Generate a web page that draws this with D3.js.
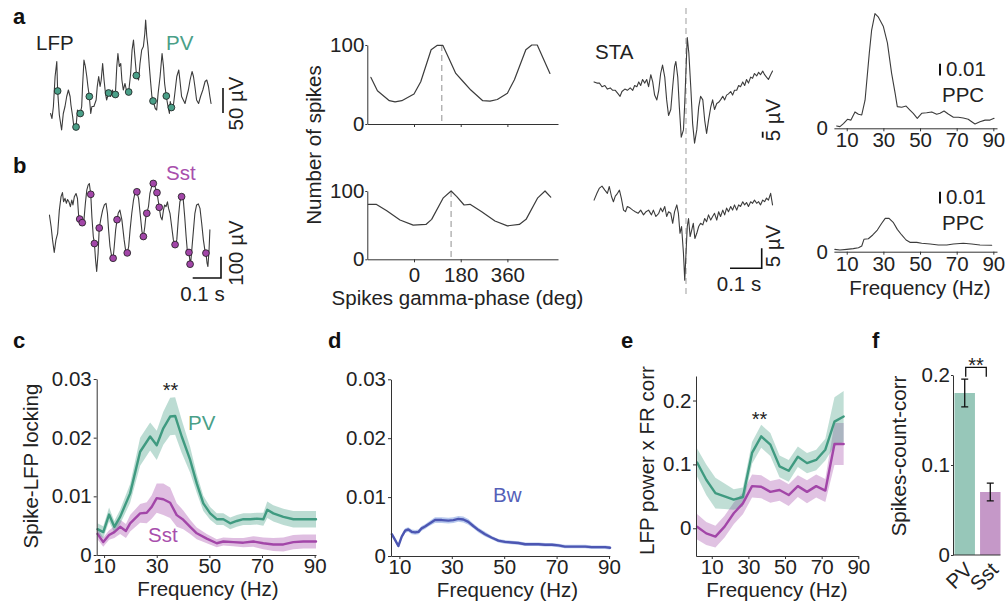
<!DOCTYPE html>
<html>
<head>
<meta charset="utf-8">
<script src="https://cdn.jsdelivr.net/npm/d3@7"></script>
<style>
html,body{margin:0;padding:0;background:#fff;}
svg{display:block;}
</style>
</head>
<body>
<svg id="fig" width="1008" height="606" xmlns="http://www.w3.org/2000/svg"></svg>
<script>
// ================= DATA =================
// a: LFP trace with PV spikes  [time ms, µV]
const lfpPV = [[2,-57],[7,-67],[12,-43],[18,17],[24,47],[27,-12],[33,-60],[41,-90],[47,-57],[53,-43],[59,-23],[65,-10],[71,-23],[74,-40],[80,-63],[85,-87],[92,-84],[97,-50],[102,-60],[107,-57],[112,-43],[115,-3],[120,50],[125,37],[130,17],[134,-3],[139,-23],[144,-57],[148,-43],[155,-43],[163,-30],[167,-3],[172,17],[177,-3],[181,10],[186,43],[191,10],[196,-17],[200,-30],[207,-16],[214,-23],[221,-10],[226,-23],[231,-19],[236,37],[240,63],[245,37],[250,43],[254,10],[259,-10],[265,3],[271,-13],[278,-14],[285,23],[290,70],[295,90],[299,63],[306,17],[313,10],[318,43],[324,70],[330,77],[335,103],[338,130],[342,97],[346,77],[351,37],[356,3],[360,-23],[365,-33],[372,-47],[377,-50],[382,-17],[389,17],[396,63],[401,37],[405,3],[411,-23],[417,-43],[422,-57],[425,-33],[429,-45],[434,-50],[441,-17],[448,17],[455,30],[459,10],[465,-23],[471,-30],[477,-37],[483,-23],[489,-10],[495,10],[502,27],[507,17],[512,-3],[518,-30],[525,-37],[532,-23],[540,-10],[548,7],[554,10],[560,-3],[565,-23],[569,-37]];
const pvSpikes = [[27,-12],[92,-84],[107,-57],[139,-23],[207,-16],[231,-19],[278,-14],[305,19],[364,-32],[411,-22],[429,-45]];
// b: LFP trace with Sst spikes
const lfpSst = [[-2,39],[4,-16],[9,-78],[15,-137],[21,-78],[27,-47],[33,62],[39,125],[44,144],[48,101],[53,117],[58,94],[62,112],[67,101],[72,78],[77,109],[81,86],[86,125],[92,140],[97,117],[101,39],[105,20],[110,8],[114,3],[120,16],[125,94],[130,156],[135,180],[139,187],[144,136],[148,31],[153,-62],[157,-95],[161,-172],[165,-226],[170,-140],[174,-22],[180,23],[186,62],[192,86],[198,94],[203,47],[207,-31],[212,-109],[218,-156],[223,-164],[227,-109],[232,-31],[237,17],[241,47],[247,62],[254,16],[262,-78],[267,-125],[273,-139],[278,-109],[283,-31],[289,47],[295,109],[300,140],[307,148],[313,117],[319,39],[325,-39],[330,-62],[335,-16],[338,23],[342,47],[348,78],[353,140],[359,172],[365,187],[371,172],[378,144],[383,101],[386,75],[391,31],[396,16],[401,62],[405,86],[410,78],[415,101],[419,70],[424,47],[430,-16],[436,-78],[442,-100],[448,-78],[454,31],[459,101],[465,125],[471,109],[476,31],[481,-62],[485,-125],[489,-140],[491,-137],[494,-172],[495,-192],[498,-172],[502,-109],[507,-31],[512,47],[518,86],[524,91],[530,70],[536,0],[542,-78],[548,-133],[551,-140],[555,-187],[558,-203],[562,-125],[565,-31]];
const sstSpikes = [[105,20],[114,3],[144,136],[157,-95],[174,-22],[223,-164],[237,17],[273,-139],[307,148],[330,-62],[342,47],[365,187],[378,144],[386,75],[442,-100],[465,125],[491,-137],[495,-192],[551,-140]];
// a/b middle: spike gamma-phase histograms
const phasePV  = [-166,-141,-95,-73,-47,0,26,66,90,111,136,161,190,219,265,293,321,360,387,431,454,475,524];
const countPV  = [59,42,29.5,28,29.5,38,53.5,94,99.6,99.6,82,64,53.5,43,29.5,29,31,39,56,94,100,100,64];
const phaseSst = [-176,-146,-105,-54,-3,46,68,113,143,165,193,216,261,312,360,406,432,477,505,527];
const countSst = [80.5,80.5,71,57.5,50,51,58.5,90,100,91.7,79.5,80.5,69.7,56,49,51,58.5,90,100,91];
const preferredPhase = [107, 143];
const phaseTicks = [0, 180, 360];
const countTicks = [0, 100];
// STA traces [time ms, µV]
const staPV = [[-290,4],[-281,3],[-273,3],[-265,0],[-256,1],[-248,-2],[-239,-1],[-231,-3],[-223,-3],[-214,-6],[-208,-8],[-202,-4],[-193,-2],[-185,-3],[-176,-1],[-168,-3],[-162,1],[-155,0],[-149,4],[-143,1],[-137,6],[-130,3],[-124,6],[-118,0],[-111,10],[-105,4],[-99,-7],[-92,-11],[-86,-3],[-80,11],[-74,18],[-67,8],[-61,-11],[-55,-24],[-48,-19],[-42,0],[-36,17],[-32,21],[-26,8],[-21,-17],[-15,-42],[-8,-36],[-4,-14],[0,14],[4,41],[9,28],[15,0],[21,-31],[27,-47],[34,-36],[40,-17],[46,-8],[53,-11],[59,-28],[65,-39],[71,-28],[78,-17],[84,-11],[90,-19],[97,-14],[103,-13],[109,-11],[116,-8],[122,-11],[128,-7],[134,-6],[141,-4],[147,-7],[153,-3],[160,-3],[166,1],[172,0],[179,4],[185,1],[191,6],[197,3],[204,8],[210,7],[216,11],[223,9],[229,12],[235,10],[242,13],[248,10],[254,8],[260,6],[267,10],[273,13]];
const staSst = [[-290,3.3],[-281,5],[-273,6.3],[-265,6.8],[-256,5.8],[-248,5],[-242,6.7],[-235,4.2],[-229,2.9],[-223,4.3],[-216,5],[-210,5.8],[-204,3.8],[-197,0.8],[-191,0.4],[-185,1.7],[-176,1.3],[-168,0.8],[-160,0.4],[-151,0],[-143,0.8],[-134,-0.4],[-126,0.4],[-118,0.8],[-109,-0.4],[-103,0.8],[-95,-0.8],[-86,0],[-80,1.3],[-74,0.4],[-67,1.7],[-61,-0.8],[-55,0.4],[-48,0],[-42,-2.5],[-36,0.4],[-29,2.1],[-24,0],[-19,-5],[-14,-3.3],[-8,-10],[-4,-16.7],[0,-10],[4,-3.3],[8,-1.3],[13,-5.8],[18,-4.2],[23,-2.5],[28,-6.3],[34,-5],[40,-3.3],[46,-2.5],[53,-2.9],[59,-1.3],[65,-2.1],[71,-0.4],[78,-1.7],[84,-0.8],[90,0],[97,-1.7],[103,0.4],[109,-0.8],[116,0.8],[122,-0.4],[128,1.3],[134,0.4],[141,1.7],[147,0.8],[153,2.1],[160,0.8],[166,2.1],[172,1.7],[179,2.9],[185,2.1],[191,2.7],[197,1.7],[204,2.9],[210,2.5],[216,3.3],[223,2.5],[229,2.9],[235,2.1],[242,3.3],[248,2.9],[254,3.8],[260,3.3],[267,5],[273,2.1]];
// PPC spectra
const ppcFreqPV = [4.5,6.3,8.2,10.4,12.3,14.5,16.4,18.2,20,22.3,23.6,25.4,27.3,30,32.2,34.5,36.4,37.6,40,42.4,44.5,46.3,48.5,50.9,53.6,56.4,59.1,60.9,63.1,65.4,68.2,70.9,73.6,76.3,78.2,80,82.7,85.5,88.2,90.4];
const ppcPV = [0.002,0.0014,0.004,0.0077,0.007,0.014,0.012,0.0114,0.024,0.064,0.084,0.098,0.095,0.087,0.073,0.047,0.03,0.0185,0.018,0.019,0.0156,0.0128,0.0085,0.0128,0.0133,0.014,0.012,0.0128,0.0148,0.0122,0.0094,0.0094,0.0088,0.0077,0.0056,0.0037,0.0056,0.007,0.007,0.0085];
const ppcFreqSst = [3.5,6.3,10,13.6,16.4,18.2,19.4,21.8,24.2,26.7,29.1,31,33.1,35.5,37.6,40,42.4,44.5,48.2,50.9,55.5,60,64.6,68.2,73.6,78.2,82.7,89.1];
const ppcSst = [0.002,0.0015,0.002,0.0026,0.0034,0.0049,0.0106,0.0111,0.0143,0.0185,0.0243,0.0285,0.0285,0.0248,0.0191,0.0143,0.01,0.008,0.008,0.0072,0.0066,0.0057,0.0057,0.0066,0.0072,0.0066,0.0057,0.0055];
const freqTicks = [10, 30, 50, 70, 90];
// c: spike-LFP locking
const lockFreqPV = [7.5,9.7,11.9,13.9,16.1,19.9,23.7,27.5,30,32.5,35.1,37,39.5,42.7,45.2,47.7,50.3,52.8,55.3,57.9,60.4,62.9,65.5,68,70.5,72,74.3,78.1,81.9,85.7,88.2,90.5];
const lockPV = [0.0044,0.0039,0.0069,0.0048,0.0065,0.0105,0.0176,0.0202,0.0187,0.0216,0.0236,0.0237,0.0202,0.0162,0.0122,0.0088,0.0071,0.0061,0.0061,0.0054,0.0058,0.0061,0.0061,0.0062,0.0061,0.0077,0.0071,0.0065,0.0061,0.0061,0.0061,0.0061];
const lockPVsem = [0.001,0.001,0.0012,0.001,0.0012,0.0016,0.0024,0.0024,0.0025,0.0028,0.0032,0.0032,0.0028,0.0022,0.0016,0.0013,0.0011,0.001,0.001,0.001,0.001,0.001,0.001,0.001,0.0011,0.0014,0.0014,0.0014,0.0014,0.0014,0.0014,0.0014];
const lockFreqSst = [7.5,9.7,11.9,13.9,16.1,18.3,19.9,23.7,26.2,28.1,30,32.5,35.1,37.6,40.1,42.7,45.2,49,52.8,55.3,59.1,62.9,66.7,70.5,74.3,78.1,81.9,85.7,88.2,90.5];
const lockSst = [0.0036,0.0022,0.0034,0.0039,0.0048,0.0041,0.0054,0.0071,0.0072,0.0082,0.0097,0.0095,0.0089,0.0068,0.006,0.0048,0.0037,0.0028,0.002,0.0023,0.0022,0.0021,0.0023,0.002,0.0018,0.0018,0.0022,0.0023,0.0023,0.0023];
const lockSstSem = [0.0009,0.0008,0.0008,0.001,0.0012,0.0012,0.0014,0.0016,0.0018,0.002,0.0025,0.0027,0.0026,0.002,0.0016,0.0012,0.001,0.0008,0.0007,0.0007,0.0007,0.0008,0.0009,0.001,0.0011,0.0012,0.0012,0.0012,0.0012,0.0012];
const lockTicks = [0, 0.01, 0.02, 0.03];
// d: broad-waveform locking
const bwFreq = [7.1,8.4,9.6,10.9,12.2,13.4,14.7,16,17.3,18.5,19.8,21.1,23.6,26.2,28.7,30.6,32.5,34.4,36.3,38.2,40.2,42.7,45.3,47.8,50.3,52.9,55.4,58,60.5,63.1,65.6,68.2,70.7,73.2,75.8,78.3,80.9,83.4,86,88.5,90.4];
const bwLock = [0.0037,0.0027,0.0017,0.0033,0.0043,0.0045,0.0041,0.004,0.0041,0.0047,0.005,0.0054,0.0061,0.0061,0.006,0.0061,0.0063,0.0062,0.0058,0.0051,0.0044,0.0037,0.0031,0.0026,0.0024,0.0023,0.0022,0.002,0.002,0.002,0.0019,0.0019,0.0018,0.0016,0.0016,0.0016,0.0016,0.0015,0.0015,0.0015,0.0014];
const bwSem = [0.0003,0.0003,0.0003,0.0003,0.0004,0.0004,0.0004,0.0004,0.0004,0.0004,0.0004,0.0004,0.0005,0.0005,0.0005,0.0005,0.0005,0.0005,0.0005,0.0004,0.0004,0.0004,0.0003,0.0003,0.0003,0.0003,0.0003,0.0003,0.0003,0.0003,0.0003,0.0003,0.0003,0.0003,0.0003,0.0003,0.0003,0.0003,0.0003,0.0003,0.0003];
// e: LFP power x FR correlation
const corrFreq = [2,7,12,17,22,27,32,37,42,47,52,57,62,67,72,77,82];
const corrPV = [0.103,0.076,0.055,0.05,0.045,0.049,0.118,0.144,0.131,0.097,0.09,0.112,0.102,0.107,0.123,0.167,0.175];
const corrPVsem = [0.022,0.024,0.024,0.02,0.016,0.015,0.017,0.018,0.018,0.017,0.017,0.016,0.016,0.016,0.017,0.038,0.04];
const corrSst = [0.0025,-0.008,-0.013,0.0025,0.0235,0.039,0.066,0.065,0.057,0.06,0.052,0.066,0.057,0.066,0.059,0.132,0.132];
const corrSstSem = [0.02,0.018,0.017,0.017,0.017,0.017,0.018,0.018,0.017,0.017,0.017,0.017,0.018,0.018,0.018,0.033,0.033];
const corrTicks = [0, 0.1, 0.2];
// f: spike-count correlation
const groups = ['PV', 'Sst'];
const countCorrMean = [0.18, 0.07];
const countCorrSem = [0.0155, 0.0098];
const countCorrTicks = [0, 0.1, 0.2];

// ================= STYLE =================
const FONT = '"Liberation Sans", Arial, Helvetica, sans-serif';
const FS = 20.5;
const INK = '#222';
const AX = '#333';
const TRACE = '#3c3c3c';
const TEAL = '#3f9a80', TEAL_TXT = '#4a9f88', TEAL_BAR = '#97c7b9';
const PURP = '#a246a8', PURP_TXT = '#a84fad', PURP_BAR = '#c598c8';
const BLUE = '#4c56b2', BLUE_TXT = '#5560b8';

const svg = d3.select('#fig');
svg.append('rect').attr('width', 1008).attr('height', 606).attr('fill', '#fff');

function label(x, y, s, o = {}) {
  const t = svg.append('text').attr('x', x).attr('y', y).text(s)
    .attr('font-family', FONT).attr('font-size', o.size || FS).attr('fill', o.fill || INK);
  if (o.anchor) t.attr('text-anchor', o.anchor);
  if (o.weight) t.attr('font-weight', o.weight);
  if (o.rotate != null) t.attr('transform', `rotate(${o.rotate},${x},${y})`);
  return t;
}
function styleAxis(g) {
  g.attr('font-size', FS).attr('font-family', FONT);
  g.select('.domain').attr('stroke', AX).attr('stroke-width', 1);
  g.selectAll('.tick line').attr('stroke', AX);
  g.selectAll('.tick text').attr('fill', INK);
  return g;
}
function pathLine(data, x, y, stroke, w) {
  return svg.append('path').datum(data)
    .attr('d', d3.line().x(d => x(d[0])).y(d => y(d[1])))
    .attr('fill', 'none').attr('stroke', stroke).attr('stroke-width', w)
    .attr('stroke-linejoin', 'round').attr('stroke-linecap', 'round');
}
function band(fr, m, s, x, y, fill, op) {
  const data = d3.zip(fr, m, s);
  svg.append('path').datum(data)
    .attr('d', d3.area().x(d => x(d[0])).y0(d => y(d[1] - d[2])).y1(d => y(d[1] + d[2])))
    .attr('fill', fill).attr('fill-opacity', op).attr('stroke', 'none');
}
const fmt2 = d => d === 0 ? '0' : d3.format('.2f')(d);
const fmt1 = d => d === 0 ? '0' : d3.format('.1f')(d);

// ================= PANEL LETTERS =================
[['a', 13, 24], ['b', 13, 173], ['c', 13, 348], ['d', 328, 348], ['e', 621, 348], ['f', 872, 348]]
  .forEach(([s, x, y]) => label(x, y, s, { size: 22, weight: 'bold', fill: '#111' }));

// ================= a/b LFP traces =================
const xT = d3.scaleLinear().domain([0, 100]).range([50, 78.3]);       // ms
const yA = d3.scaleLinear().domain([0, 50]).range([85, 60]);          // µV
const yB = d3.scaleLinear().domain([0, 100]).range([223.3, 202]);     // µV

label(36, 50, 'LFP');
label(166, 50, 'PV', { fill: TEAL_TXT });
pathLine(lfpPV, xT, yA, TRACE, 1.1);
svg.selectAll('.dotPV').data(pvSpikes).enter().append('circle')
  .attr('cx', d => xT(d[0])).attr('cy', d => yA(d[1])).attr('r', 3.4)
  .attr('fill', TEAL_TXT).attr('stroke', '#1c1c1c').attr('stroke-width', 0.8);
{
  const yb = 113, len = yA(0) - yA(50);
  svg.append('line').attr('x1', 223).attr('x2', 223).attr('y1', yb).attr('y2', yb - len).attr('stroke', '#111').attr('stroke-width', 1.6);
  label(243, 103.5, '50 µV', { rotate: -90, anchor: 'middle' });
}

label(166, 180, 'Sst', { fill: PURP_TXT });
pathLine(lfpSst, xT, yB, TRACE, 1.1);
svg.selectAll('.dotSst').data(sstSpikes).enter().append('circle')
  .attr('cx', d => xT(d[0])).attr('cy', d => yB(d[1])).attr('r', 3.4)
  .attr('fill', PURP).attr('stroke', '#1c1c1c').attr('stroke-width', 0.8);
{
  const xb = 221, yb = 278, len = yB(0) - yB(100), tl = xT(100) - xT(0);
  svg.append('path').attr('d', `M${xb},${yb - len}V${yb}H${xb - tl}`).attr('fill', 'none').attr('stroke', '#111').attr('stroke-width', 1.6);
  label(243, 253, '100 µV', { rotate: -90, anchor: 'middle' });
  label(202.5, 301, '0.1 s', { anchor: 'middle' });
}

// ================= phase histograms =================
const xPh = d3.scaleLinear().domain([-180, 555]).range([367.3, 558]);
const yH1 = d3.scaleLinear().domain([0, 100]).range([124, 45]);
const yH2 = d3.scaleLinear().domain([0, 100]).range([259.3, 191]);

[[yH1, d3.zip(phasePV, countPV), false, preferredPhase[0]], [yH2, d3.zip(phaseSst, countSst), true, preferredPhase[1]]]
  .forEach(([yH, data, showLabels, pref]) => {
    svg.append('line').attr('x1', xPh(pref)).attr('x2', xPh(pref))
      .attr('y1', yH(100)).attr('y2', yH(0)).attr('stroke', '#aaa').attr('stroke-width', 1.3).attr('stroke-dasharray', '6,4');
    styleAxis(svg.append('g').attr('transform', `translate(${xPh.range()[0]},0)`)
      .call(d3.axisLeft(yH).tickValues(countTicks).tickSize(2).tickPadding(1).tickSizeOuter(0)));
    const ax = d3.axisBottom(xPh).tickValues(phaseTicks).tickSize(3).tickPadding(5).tickSizeOuter(0);
    if (!showLabels) ax.tickFormat(() => '');
    styleAxis(svg.append('g').attr('transform', `translate(0,${yH(0)})`).call(ax));
    pathLine(data, xPh, yH, TRACE, 1.2);
  });
label(321, 145, 'Number of spikes', { rotate: -90, anchor: 'middle' });
label(457.5, 305, 'Spikes gamma-phase (deg)', { anchor: 'middle' });

// ================= STA =================
const xS = d3.scaleLinear().domain([0, 100]).range([686, 717.7]);
const ySTA1 = d3.scaleLinear().domain([0, 5]).range([86.7, 80.7]);
const ySTA2 = d3.scaleLinear().domain([0, 5]).range([213.3, 193.3]);
svg.append('line').attr('x1', xS(0)).attr('x2', xS(0)).attr('y1', 8).attr('y2', 298)
  .attr('stroke', '#b5b5b5').attr('stroke-width', 1.3).attr('stroke-dasharray', '6,4');
label(595, 59, 'STA');
pathLine(staPV, xS, ySTA1, TRACE, 1.1);
pathLine(staSst, xS, ySTA2, TRACE, 1.1);
{
  const len1 = ySTA1(0) - ySTA1(5);
  svg.append('line').attr('x1', 762.7).attr('x2', 762.7).attr('y1', 137.7).attr('y2', 137.7 - len1).attr('stroke', '#111').attr('stroke-width', 1.8);
  label(780, 120, '5 µV', { rotate: -90, anchor: 'middle' });
  const len2 = ySTA2(0) - ySTA2(5), tl = xS(100) - xS(0);
  svg.append('path').attr('d', `M761.7,${268.3 - len2}V268.3H${761.7 - tl}`).attr('fill', 'none').attr('stroke', '#111').attr('stroke-width', 1.6);
  label(780, 246, '5 µV', { rotate: -90, anchor: 'middle' });
  label(739, 291, '0.1 s', { anchor: 'middle' });
}

// ================= PPC =================
const xP = d3.scaleLinear().domain([3, 92]).range([833.9, 997]);
const yP1 = d3.scaleLinear().domain([0, 0.01]).range([128.3, 116.6]);
const yP2 = d3.scaleLinear().domain([0, 0.01]).range([251.7, 240]);
[[yP1, d3.zip(ppcFreqPV, ppcPV), 76], [yP2, d3.zip(ppcFreqSst, ppcSst), 204]].forEach(([yP, data, barBase]) => {
  styleAxis(svg.append('g').attr('transform', `translate(0,${yP(0)})`)
    .call(d3.axisBottom(xP).tickValues(freqTicks).tickSize(3).tickPadding(1.5).tickSizeOuter(0)));
  label(828, yP(0), '0', { anchor: 'end' }).attr('dy', '0.35em');
  pathLine(data, xP, yP, TRACE, 1.1);
  const len = yP(0) - yP(0.01);
  svg.append('line').attr('x1', 940).attr('x2', 940).attr('y1', barBase - 0.5).attr('y2', barBase - 0.5 - len).attr('stroke', '#111').attr('stroke-width', 2);
  label(946, barBase, '0.01');
  label(942, barBase + 26, 'PPC');
});
label(920, 295, 'Frequency (Hz)', { anchor: 'middle' });

// ================= c =================
const xC = d3.scaleLinear().domain([7.2, 90.5]).range([96.7, 316]);
const yC = d3.scaleLinear().domain([0, 0.03]).range([555, 379]);
band(lockFreqSst, lockSst, lockSstSem, xC, yC, PURP, 0.35);
band(lockFreqPV, lockPV, lockPVsem, xC, yC, TEAL, 0.35);
pathLine(d3.zip(lockFreqSst, lockSst), xC, yC, PURP, 2.4);
pathLine(d3.zip(lockFreqPV, lockPV), xC, yC, TEAL, 2.4);
styleAxis(svg.append('g').attr('transform', `translate(${xC.range()[0]},0)`)
  .call(d3.axisLeft(yC).tickValues(lockTicks).tickFormat(fmt2).tickSize(3).tickPadding(2).tickSizeOuter(0)));
styleAxis(svg.append('g').attr('transform', `translate(0,${yC.range()[0]})`)
  .call(d3.axisBottom(xC).tickValues(freqTicks).tickSize(3).tickPadding(0.5).tickSizeOuter(0)));
label(38, 466, 'Spike-LFP locking', { rotate: -90, anchor: 'middle' });
label(208, 596, 'Frequency (Hz)', { anchor: 'middle' });
label(170.5, 397, '**', { anchor: 'middle', size: 20 });
label(188, 430, 'PV', { fill: TEAL_TXT });
label(148, 542, 'Sst', { fill: PURP_TXT });

// ================= d =================
const xD = d3.scaleLinear().domain([6.8, 90.3]).range([391, 609.8]);
const yD = d3.scaleLinear().domain([0, 0.03]).range([556, 379.3]);
band(bwFreq, bwLock, bwSem, xD, yD, '#7f9fe0', 0.55);
pathLine(d3.zip(bwFreq, bwLock), xD, yD, BLUE, 2.4);
styleAxis(svg.append('g').attr('transform', `translate(${xD.range()[0]},0)`)
  .call(d3.axisLeft(yD).tickValues(lockTicks).tickFormat(fmt2).tickSize(3).tickPadding(2).tickSizeOuter(0)));
styleAxis(svg.append('g').attr('transform', `translate(0,${yD.range()[0]})`)
  .call(d3.axisBottom(xD).tickValues(freqTicks).tickSize(3).tickPadding(0).tickSizeOuter(0)));
label(507.5, 596.5, 'Frequency (Hz)', { anchor: 'middle' });
label(493, 502, 'Bw', { fill: BLUE_TXT });

// ================= e =================
const xE = d3.scaleLinear().domain([1.4, 90]).range([696, 858.3]);
const yE = d3.scaleLinear().domain([-0.0434, 0.2384]).range([556, 376]);
band(corrFreq, corrSst, corrSstSem, xE, yE, PURP, 0.33);
band(corrFreq, corrPV, corrPVsem, xE, yE, TEAL, 0.33);
pathLine(d3.zip(corrFreq, corrSst), xE, yE, PURP, 2.4);
pathLine(d3.zip(corrFreq, corrPV), xE, yE, TEAL, 2.4);
styleAxis(svg.append('g').attr('transform', `translate(${xE.range()[0]},0)`)
  .call(d3.axisLeft(yE).tickValues(corrTicks).tickFormat(fmt1).tickSize(3).tickPadding(1.5).tickSizeOuter(0)));
styleAxis(svg.append('g').attr('transform', `translate(0,${yE.range()[0]})`)
  .call(d3.axisBottom(xE).tickValues(freqTicks).tickSize(3).tickPadding(0).tickSizeOuter(0)));
label(654, 460.5, 'LFP power x FR corr', { rotate: -90, anchor: 'middle' });
label(777, 596.5, 'Frequency (Hz)', { anchor: 'middle' });
label(759.5, 426, '**', { anchor: 'middle', size: 20 });

// ================= f =================
const xF = d3.scaleBand().domain(groups).range([954.5, 1000.5]).paddingInner(0.2).paddingOuter(0);
const yF = d3.scaleLinear().domain([0, 0.2]).range([555, 375]);
const fData = d3.zip(groups, countCorrMean, countCorrSem);
svg.selectAll('.barF').data(fData).enter().append('rect')
  .attr('x', d => xF(d[0])).attr('width', xF.bandwidth())
  .attr('y', d => yF(d[1])).attr('height', d => yF(0) - yF(d[1]))
  .attr('fill', (d, i) => i === 0 ? TEAL_BAR : PURP_BAR);
fData.forEach(d => {
  const cx = xF(d[0]) + xF.bandwidth() / 2, y1 = yF(d[1] + d[2]), y2 = yF(d[1] - d[2]);
  svg.append('path').attr('d', `M${cx},${y1}V${y2}M${cx - 3.5},${y1}H${cx + 3.5}M${cx - 3.5},${y2}H${cx + 3.5}`)
    .attr('stroke', '#111').attr('stroke-width', 1.3).attr('fill', 'none');
});
styleAxis(svg.append('g').attr('transform', 'translate(953,0)')
  .call(d3.axisLeft(yF).tickValues(countCorrTicks).tickFormat(fmt1).tickSize(2).tickPadding(1).tickSizeOuter(0)));
svg.append('line').attr('x1', 953).attr('x2', xF.range()[1]).attr('y1', yF(0)).attr('y2', yF(0)).attr('stroke', AX);
fData.forEach(d => {
  const ex = xF(d[0]) + xF.bandwidth() - 1;
  label(ex, 571, d[0], { rotate: -45, anchor: 'end' });
});
{
  const c1 = xF(groups[0]) + xF.bandwidth() / 2 + 1, c2 = xF(groups[1]) + xF.bandwidth() / 2 - 4;
  svg.append('path').attr('d', `M${c1},376.7V367.3H${c2}V376.7`).attr('fill', 'none').attr('stroke', '#111').attr('stroke-width', 1.3);
  label((c1 + c2) / 2, 372, '**', { anchor: 'middle', size: 20 });
}
label(906, 456, 'Spikes-count-corr', { rotate: -90, anchor: 'middle' });
</script>
</body>
</html>
